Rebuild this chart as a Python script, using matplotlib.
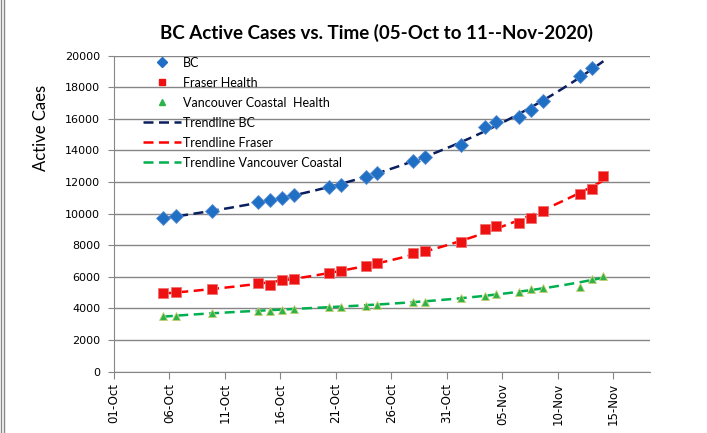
import datetime as dt

import matplotlib
matplotlib.use("Agg")
import matplotlib.dates as mdates
import matplotlib.pyplot as plt
import numpy as np
from matplotlib.lines import Line2D

# days after 01-Oct-2020 for each report
days = [4.4, 5.6, 8.8, 13.0, 14.1, 15.1, 16.2, 19.4, 20.5, 22.7, 23.7,
        26.9, 28.0, 31.3, 33.4, 34.4, 36.5, 37.6, 38.7, 42.0, 43.1, 44.1]

bc = [9710, 9820, 10130, 10730, 10860, 10960, 11170, 11680, 11810, 12290,
      12570, 13350, 13580, 14340, 15490, 15800, 16090, 16560, 17110, 18690,
      19180]
fraser = [4960, 5020, 5210, 5590, 5470, 5780, 5870, 6230, 6370, 6650, 6860,
          7500, 7640, 8190, 9020, 9210, 9420, 9690, 10130, 11240, 11550, 12400]
vch = [3500, 3510, 3690, 3840, 3860, 3900, 3980, 4110, 4110, 4170, 4240,
       4390, 4430, 4640, 4810, 4910, 5020, 5210, 5310, 5340, 5870, 6070]

start = dt.datetime(2020, 10, 1)
tick_dates = [start + dt.timedelta(days=5 * i) for i in range(10)]

grey = "#868686"
blue = "#1F6FC4"
red = "#EE1111"
green = "#2DB34A"
navy = "#0A1F60"
tred = "#FF0000"
tgreen = "#00B050"


def to_dates(d):
    return [start + dt.timedelta(days=v) for v in d]


def trend(y, deg=3):
    x = np.array(days[:len(y)])
    coef = np.polyfit(x, y, deg)
    xs = np.linspace(days[0], days[-1], 200)
    return to_dates(xs), np.polyval(coef, xs)


fig = plt.figure(figsize=(7.07, 4.33), dpi=100)
ax = fig.add_axes([0.1612, 0.142, 0.7582, 0.7298])

dash = (4, 2.2)
tx, ty = trend(bc)
ax.plot(tx, ty, color=navy, lw=1.8, dashes=dash, zorder=2)
tx, ty = trend(fraser)
ax.plot(tx, ty, color=tred, lw=1.8, dashes=dash, zorder=2)
tx, ty = trend(vch)
ax.plot(tx, ty, color=tgreen, lw=1.8, dashes=dash, zorder=2)

ax.plot(to_dates(days[:len(bc)]), bc, "D", color=blue, ms=6.8,
        mec="#5B8FD0", mew=0.6, zorder=3)
ax.plot(to_dates(days), fraser, "s", color=red, ms=6.8,
        mec="#F07070", mew=0.6, zorder=3)
ax.plot(to_dates(days), vch, "^", color=green, ms=6.2,
        mec="#C8D070", mew=0.6, zorder=3)

ax.set_xlim(start, start + dt.timedelta(days=48.3))
ax.set_ylim(0, 20000)
ax.set_yticks(range(0, 20001, 2000))
ax.set_xticks(tick_dates)
ax.xaxis.set_major_formatter(mdates.DateFormatter("%d-%b"))
ax.grid(axis="y", color=grey, lw=1)
ax.set_axisbelow(True)

for s in ["top", "right"]:
    ax.spines[s].set_visible(False)
for s in ["left", "bottom"]:
    ax.spines[s].set_color(grey)
ax.tick_params(axis="y", direction="out", length=4, color=grey,
               labelsize=8, pad=6)
ax.tick_params(axis="x", direction="out", length=5, color=grey,
               labelsize=8.5, pad=3, labelrotation=90)

fig.text(0.532, 0.924, "BC Active Cases vs. Time (05-Oct to 11--Nov-2020)",
         ha="center", va="center", fontsize=13.5, fontweight="bold",
         family="Lato")
fig.text(0.058, 0.705, "Active Caes", rotation=90, ha="center",
         va="center", fontsize=12, family="Lato")

handles = [
    Line2D([], [], ls="none", marker="D", color=blue, ms=5),
    Line2D([], [], ls="none", marker="s", color=red, ms=5),
    Line2D([], [], ls="none", marker="^", color=green, ms=5),
    Line2D([], [], color=navy, lw=1.8, dashes=dash),
    Line2D([], [], color=tred, lw=1.8, dashes=dash),
    Line2D([], [], color=tgreen, lw=1.8, dashes=dash),
]
labels = ["BC", "Fraser Health", "Vancouver Coastal  Health",
          "Trendline BC", "Trendline Fraser", "Trendline Vancouver Coastal"]
ax.legend(handles, labels, loc="upper left", bbox_to_anchor=(0.045, 1.012),
          frameon=False, prop={"family": "Lato", "size": 9},
          handlelength=3.0, handletextpad=0.2, labelspacing=0.64,
          borderaxespad=0)

fig.add_artist(Line2D([0.002, 0.002], [0, 1], color=grey, lw=1))
fig.add_artist(Line2D([0.006, 0.006], [0, 1], color=grey, lw=1))

fig.savefig("out.png", dpi=100)
